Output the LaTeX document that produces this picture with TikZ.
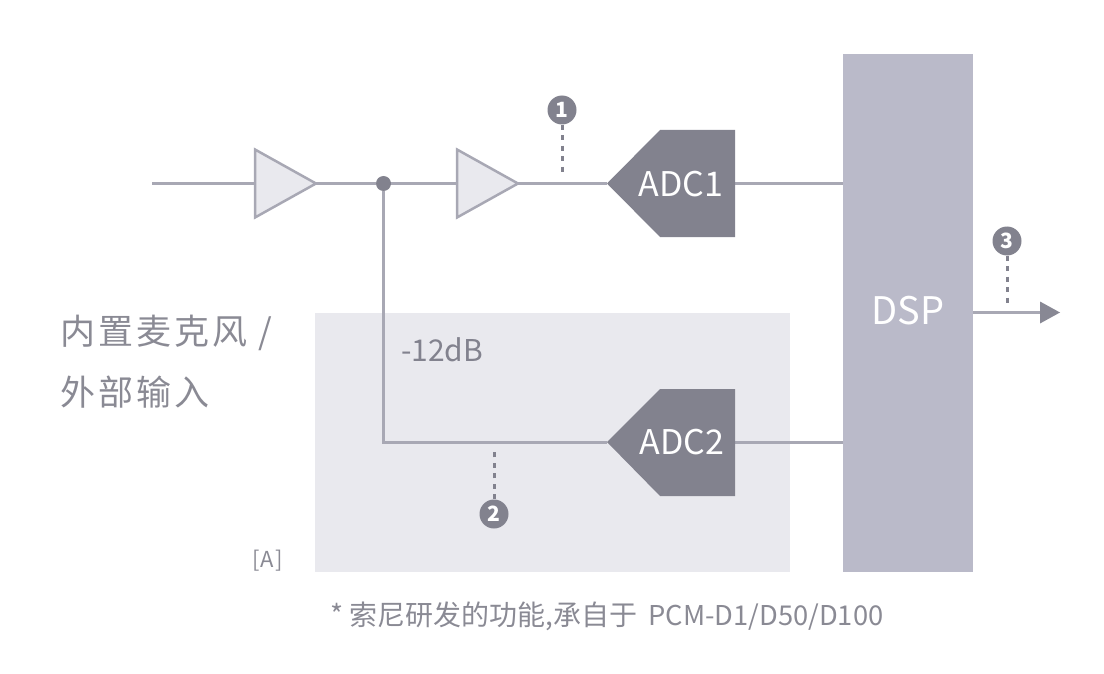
\documentclass[tikz,border=0pt]{standalone}
\usepackage{fontspec}
\setmainfont{Noto Sans CJK SC}
\usetikzlibrary{calc}
\definecolor{wire}{HTML}{A8A8B4}
\definecolor{dark}{HTML}{82828E}
\definecolor{pale}{HTML}{E9E9EE}
\definecolor{dspc}{HTML}{BABAC9}
\definecolor{txt}{HTML}{8A8A94}
\tikzset{
  x=1pt,y=-1pt,
  wireline/.style={draw=wire,line width=3pt},
  amp/.style={draw=wire,fill=pale,line width=2.5pt,line join=miter},
  adcbody/.style={fill=dark},
  adclabel/.style={text=white,font=\fontsize{34}{34}\selectfont,inner sep=0pt},
  dotted link/.style={draw=dark,line width=3pt,dash pattern=on 5pt off 5.5pt},
  badge/.style={circle,fill=dark,text=white,minimum size=29pt,inner sep=0pt,font=\fontsize{21}{21}\selectfont\bfseries},
  label/.style={text=txt,inner sep=0pt,anchor=west},
}
\begin{document}
\begin{tikzpicture}
\useasboundingbox (0,0) rectangle (1104,674);
% panels
\fill[pale] (315,313) rectangle (790,571.5);
\node[fill=dspc,minimum width=130pt,minimum height=517.5pt,inner sep=0pt] (dsp) at (908,312.75) {};
\node[text=white,font=\fontsize{38}{38}\selectfont,inner sep=0pt] (dsptext) at (908,311) {DSP};
% points
\coordinate (in) at (152,183.5);
\coordinate (amp1in) at (255,183.5);
\coordinate (amp1out) at (316,183.5);
\coordinate (amp2in) at (457,183.5);
\coordinate (amp2out) at (518,183.5);
\coordinate (adc1tip) at (607,183.5);
\coordinate (adc1out) at (735,183.5);
\coordinate (adc2tip) at (607,442);
\coordinate (adc2out) at (735,442);
\coordinate (corner) at (383.5,442);
\coordinate (dsp1) at (843,183.5);
\coordinate (dsp2) at (843,442);
\coordinate (dsp3) at (973,312.5);
\coordinate (arrowbase) at (1042,312.5);
\coordinate (outtip) at (1060,312.5);
\coordinate (tap1) at (562,176);
\coordinate (tap2) at (494,449);
\coordinate (tap3) at (1007,306);
\node[circle,fill=dark,minimum size=15pt,inner sep=0pt] (junction) at (383.5,183.5) {};
% wires
\draw[wireline] (in) -- (amp1in);
\draw[wireline] (amp1out) -- (junction);
\draw[wireline] (junction) -- (amp2in);
\draw[wireline] (amp2out) -- (adc1tip);
\draw[wireline] (adc1out) -- (dsp1);
\draw[wireline] (junction) -- (corner) -- (adc2tip);
\draw[wireline] (adc2out) -- (dsp2);
\draw[wireline] (dsp3) -- (arrowbase);
\fill[dark!85!wire] (1040,301.5) -- (outtip) -- (1040,323.5) -- cycle;
% amplifiers
\draw[amp] (255,149.5) -- (amp1out) -- (255,217.5) -- cycle;
\draw[amp] (457,149.5) -- (amp2out) -- (457,217.5) -- cycle;
% converters
\fill[adcbody] (adc1tip) -- (660,130) -- (735,130) -- (735,237) -- (660,237) -- cycle;
\fill[adcbody] (adc2tip) -- (660,389) -- (735,389) -- (735,496) -- (660,496) -- cycle;
\node[adclabel] (adc1) at (681,184) {ADC1};
\node[adclabel] (adc2) at (682,442) {ADC2};
% badges
\node[badge] (b1) at (562,110) {1};
\node[badge] (b2) at (494,514) {2};
\node[badge] (b3) at (1007,241) {3};
\draw[dotted link] (b1) -- (tap1);
\draw[dotted link] (b2) -- (tap2);
\draw[dotted link] (b3) -- (tap3);
% text
\node[label,font=\fontsize{35}{35}\selectfont\addfontfeatures{LetterSpace=9}] (t1) at (60,333) {内置麦克风 /};
\node[label,font=\fontsize{35}{35}\selectfont\addfontfeatures{LetterSpace=9}] (t2) at (60,392) {外部输入};
\node[label,text=dark,font=\fontsize{30}{30}\selectfont] (db) at (401,350) {-12dB};
\node[label,font=\fontsize{22}{22}\selectfont\addfontfeatures{LetterSpace=6}] (a) at (252,561) {[A]};
\node[label,font=\fontsize{28}{28}\selectfont] (foot) at (330,616) {* 索尼研发的功能,承自于\hspace{11pt}\fontsize{27.3}{28}\selectfont PCM-D1/D50/D100};
\end{tikzpicture}
\end{document}
